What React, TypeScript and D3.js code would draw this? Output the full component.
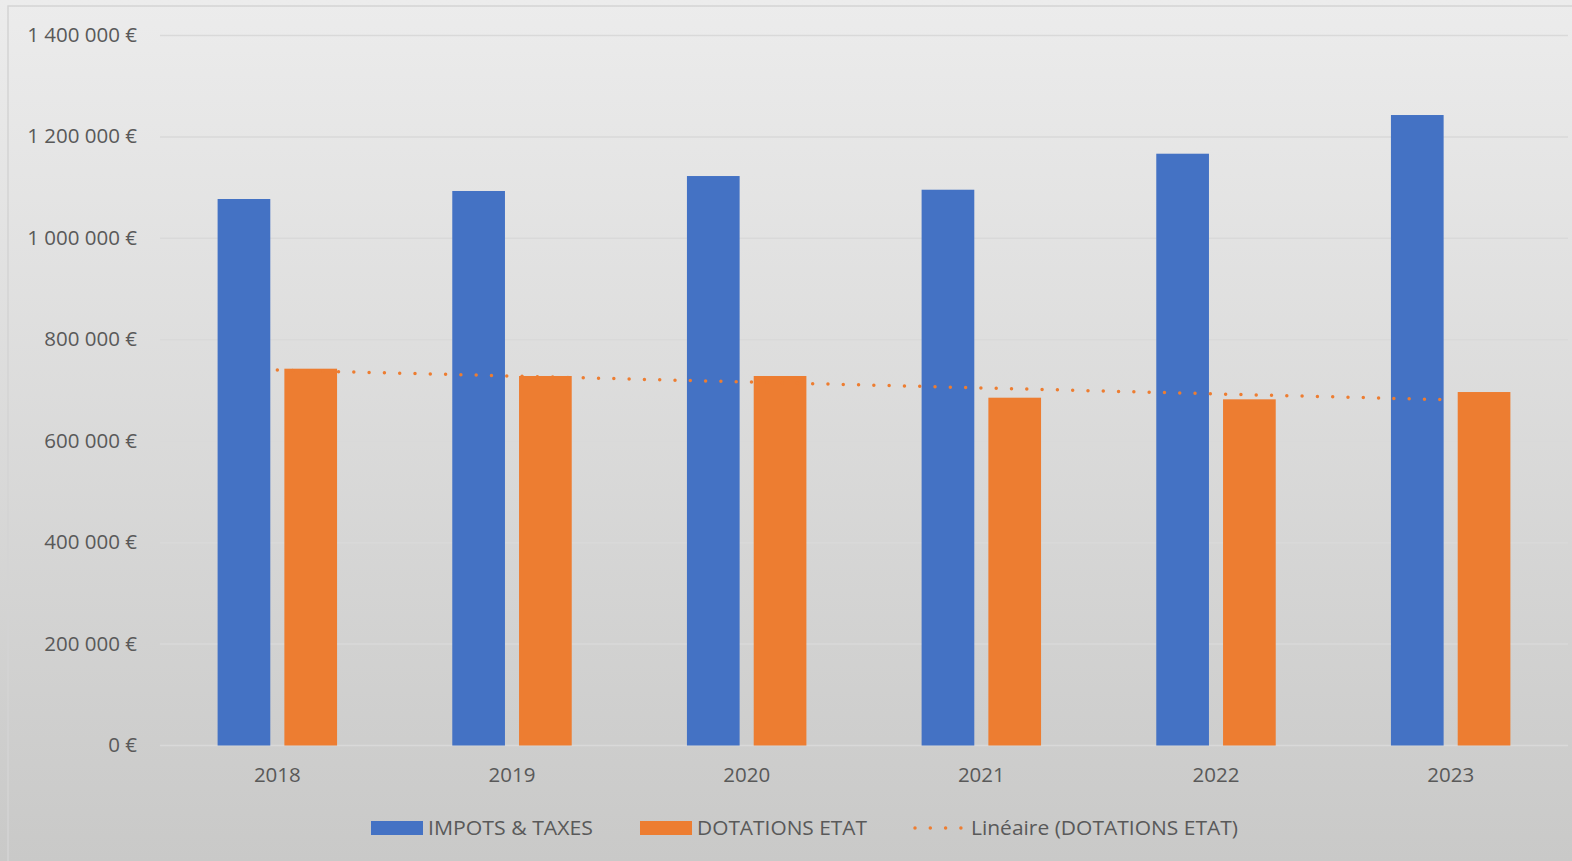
import React from "react";
import * as d3 from "d3";

const categories = ["2018", "2019", "2020", "2021", "2022", "2023"];
const impotsTaxes = [1077600, 1093400, 1122900, 1095900, 1166900, 1243200];
const dotationsEtat = [743000, 728600, 728600, 685800, 682600, 697000];
const yTicks = [0, 200000, 400000, 600000, 800000, 1000000, 1200000, 1400000];
const seriesNames = ["IMPOTS & TAXES", "DOTATIONS ETAT", "Linéaire (DOTATIONS ETAT)"];

const W = 1572;
const H = 861;
const FONT = "'Open Sans', sans-serif";
const TEXT = "#595959";
const BLUE = "#4472C4";
const ORANGE = "#ED7D31";

function fmt(v: number): string {
  const s = String(v).replace(/\B(?=(\d{3})+(?!\d))/g, " ");
  return s + " €";
}

export default function App() {
  const plotLeft = 160;
  const plotRight = 1568;
  const yZero = 745.5;
  const yTop = 35.5;

  const x = d3.scaleBand<string>().domain(categories).range([plotLeft, plotRight]).padding(0);
  const y = d3.scaleLinear().domain([0, 1400000]).range([yZero, yTop]);
  const bw = x.bandwidth();
  const barW = bw * 0.2245;
  const gap = bw * 0.06;
  const inner = (bw - (2 * barW + gap)) / 2;

  // linear regression for trendline
  const n = dotationsEtat.length;
  const xs = d3.range(n);
  const mx = d3.mean(xs) as number;
  const my = d3.mean(dotationsEtat) as number;
  const slope =
    d3.sum(xs.map((i) => (i - mx) * (dotationsEtat[i] - my))) /
    d3.sum(xs.map((i) => (i - mx) * (i - mx)));
  const intercept = my - slope * mx;
  const trendPts: [number, number][] = xs.map((i) => [
    (x(categories[i]) as number) + bw / 2,
    y(intercept + slope * i),
  ]);
  const trendLine = d3.line()(trendPts) as string;

  const legendY = 827;

  return (
    <svg
      width={W}
      height={H}
      style={{ position: "absolute", left: 0, top: 0, display: "block" }}
      fontFamily={FONT}
    >
      <defs>
        <linearGradient id="bg" x1="0" y1="0" x2="0" y2="1">
          <stop offset="0" stopColor="#ececec" />
          <stop offset="1" stopColor="#c9c9c8" />
        </linearGradient>
      </defs>
      <rect x={0} y={0} width={W} height={H} fill="url(#bg)" />
      <rect x={8} y={6} width={W} height={H} fill="none" stroke="#d4d4d4" strokeWidth={1.5} />

      {yTicks.map((t) => (
        <g key={t}>
          <line x1={plotLeft} x2={plotRight} y1={y(t)} y2={y(t)} stroke="#d9d9d9" strokeWidth={1.5} />
          <text
            x={137}
            y={y(t) - 1.5}
            textAnchor="end"
            dominantBaseline="central"
            fontSize={20.5}
            fill={TEXT}
          >
            {fmt(t)}
          </text>
        </g>
      ))}

      {categories.map((c, i) => {
        const x0 = (x(c) as number) + inner;
        return (
          <g key={c}>
            <rect x={x0} y={y(impotsTaxes[i])} width={barW} height={yZero - y(impotsTaxes[i])} fill={BLUE} />
            <rect
              x={x0 + barW + gap}
              y={y(dotationsEtat[i])}
              width={barW}
              height={yZero - y(dotationsEtat[i])}
              fill={ORANGE}
            />
            <text
              x={(x(c) as number) + bw / 2}
              y={774}
              textAnchor="middle"
              dominantBaseline="central"
              fontSize={20.5}
              fill={TEXT}
            >
              {c}
            </text>
          </g>
        );
      })}

      <path
        d={trendLine}
        fill="none"
        stroke={ORANGE}
        strokeWidth={3.5}
        strokeLinecap="round"
        strokeDasharray="0 15.3"
      />

      {/* legend */}
      <rect x={371} y={821} width={52} height={14} fill={BLUE} />
      <text x={428} y={legendY} dominantBaseline="central" fontSize={20.5} fill={TEXT} textLength={165} lengthAdjust="spacingAndGlyphs">
        {seriesNames[0]}
      </text>
      <rect x={640} y={821} width={52} height={14} fill={ORANGE} />
      <text x={697} y={legendY} dominantBaseline="central" fontSize={20.5} fill={TEXT} textLength={170} lengthAdjust="spacingAndGlyphs">
        {seriesNames[1]}
      </text>
      <path
        d={`M915,${legendY + 1}L962,${legendY + 1}`}
        stroke={ORANGE}
        strokeWidth={3.5}
        strokeLinecap="round"
        strokeDasharray="0 15.3"
      />
      <text x={971} y={legendY} dominantBaseline="central" fontSize={20.5} fill={TEXT} textLength={267} lengthAdjust="spacingAndGlyphs">
        {seriesNames[2]}
      </text>
    </svg>
  );
}
